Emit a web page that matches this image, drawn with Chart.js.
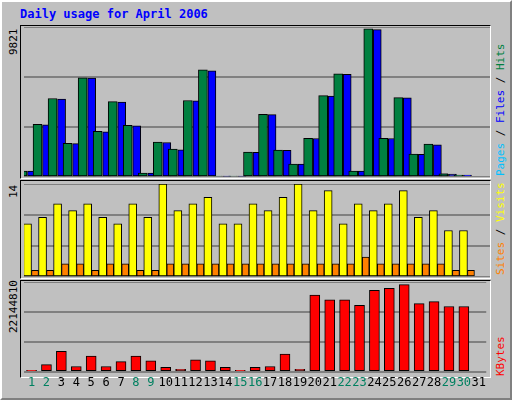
<!DOCTYPE html>
<html>
<head>
<meta charset="utf-8">
<script src="https://cdn.jsdelivr.net/npm/chart.js@4.4.0/dist/chart.umd.min.js"></script>
<style>
  body { margin: 0; background: #c0c0c0; }
  #frame { position: absolute; left: 0; top: 0; width: 508px; height: 396px; background: #c0c0c0;
    border-left: 2px solid #fff; border-top: 2px solid #fff; border-right: 2px solid #808080; border-bottom: 2px solid #808080; }
  .panel { position: absolute; left: 20px; width: 469px; background: #c0c0c0;
    border-top: 1px solid #000; border-left: 1px solid #000; border-bottom: 1px solid #fff; border-right: 1px solid #fff; }
  canvas { position: absolute; }
  .lbl { position: absolute; font-family: "DejaVu Sans Mono", monospace; font-size: 11px; white-space: nowrap;
    transform-origin: 0 0; transform: rotate(-90deg); }
  #title { position: absolute; left: 20px; top: 7px; font: bold 12px "DejaVu Sans Mono", monospace; color: #0000ff; }
</style>
</head>
<body>
<div id="frame"></div>
<div id="title">Daily usage for April 2006</div>
<div class="panel" style="top:25px;height:152px"></div>
<div class="panel" style="top:180px;height:97px"></div>
<div class="panel" style="top:280px;height:96px"></div>
<canvas id="c1" style="left:24px;top:27px"></canvas>
<canvas id="c2" style="left:24px;top:184px"></canvas>
<canvas id="c3" style="left:24px;top:282px"></canvas>
<div class="lbl" style="left:7px;top:55px;color:#000">9821</div>
<div class="lbl" style="left:7px;top:198px;color:#000">14</div>
<div class="lbl" style="left:7px;top:333px;color:#000">22144810</div>
<div class="lbl" style="left:494px;top:176px"><span style="color:#00c0ff">Pages</span> / <span style="color:#0000ff">Files</span> / <span style="color:#008040">Hits</span></div>
<div class="lbl" style="left:494px;top:275px"><span style="color:#ff8000">Sites</span> / <span style="color:#ffff00">Visits</span></div>
<div class="lbl" style="left:494px;top:376px"><span style="color:#ff0000">KBytes</span></div>
<script>
const days = ['1','2','3','4','5','6','7','8','9','10','11','12','13','14','15','16','17','18','19','20','21','22','23','24','25','26','27','28','29','30','31'];
const weekendDays = ['1','2','8','9','15','16','22','23','29','30'];
const hits = [390,3450,5140,2210,6500,2990,4940,3380,260,2280,1820,5010,7020,65,65,1630,4100,1760,850,2540,5330,6760,390,9700,2540,5200,1500,2150,200,130,0];
const files = [380,3420,5100,2180,6480,2960,4900,3350,250,2260,1780,4980,6950,60,60,1620,4080,1740,840,2520,5300,6720,380,9650,2520,5180,1480,2100,190,120,0];
const pages = [0,0,0,0,0,0,0,0,0,200,0,0,0,0,0,0,0,0,0,0,0,0,0,0,0,0,0,200,0,0,0];
const visits = [8,9,11,10,11,9,8,11,9,14,10,11,12,8,8,11,10,12,14,10,13,8,11,10,11,13,9,10,7,7,0];
const sites = [1,1,2,2,1,2,2,1,1,2,2,2,2,2,2,2,2,2,2,2,2,2,3,2,2,2,2,2,1,1,0];
const kbytes = [330000,1740000,5040000,1270000,3860000,1270000,2450000,3860000,2690000,1040000,570000,2920000,2690000,1040000,330000,1040000,1270000,4330000,570000,18940000,17760000,17760000,16350000,20100000,20600000,21500000,16800000,17300000,16100000,16100000,0];
const hitsMax = 9821, visitsMax = 14, kbytesMax = 22144810;

function makeChart(id, w, h, datasets, max, showX) {
  const cv = document.getElementById(id);
  cv.width = w; cv.height = h; cv.style.width = w + 'px'; cv.style.height = h + 'px';
  return new Chart(cv, {
    type: 'bar',
    data: { labels: days, datasets: datasets },
    options: {
      responsive: false, animation: false,
      layout: { padding: 0 },
      plugins: { legend: { display: false }, tooltip: { enabled: false } },
      datasets: { bar: { categoryPercentage: 0.3, borderColor: '#000', borderWidth: 1, borderSkipped: false } },
      scales: {
        x: {
          display: showX,
          grid: { display: false, drawTicks: false }, border: { display: false },
          ticks: {
            padding: 4, maxRotation: 0, autoSkip: false,
            font: { family: 'DejaVu Sans Mono', size: 12 },
            color: ctx => weekendDays.includes(days[ctx.index]) ? '#008060' : '#000'
          }
        },
        y: {
          min: 0, max: max,
          afterBuildTicks: s => { s.ticks = [0, max / 3, max * 2 / 3, max].map(v => ({ value: v })); },
          ticks: { display: false },
          grid: { color: '#808080', lineWidth: 2, drawTicks: false },
          border: { display: false }
        }
      }
    }
  });
}

makeChart('c1', 466, 150, [
  { data: hits, backgroundColor: '#008040', barThickness: 9 },
  { data: files, backgroundColor: '#0000ff', barThickness: 8 },
  { data: pages, backgroundColor: '#00c0ff', barThickness: 7 }
], hitsMax, false);

makeChart('c2', 466, 93, [
  { data: visits, backgroundColor: '#ffff00', barThickness: 8 },
  { data: sites, backgroundColor: '#ff8000', barThickness: 7 }
], visitsMax, false);

makeChart('c3', 466, 112, [
  { data: kbytes, backgroundColor: '#ff0000', barThickness: 10, categoryPercentage: 1 }
], kbytesMax, true);
</script>
</body>
</html>
